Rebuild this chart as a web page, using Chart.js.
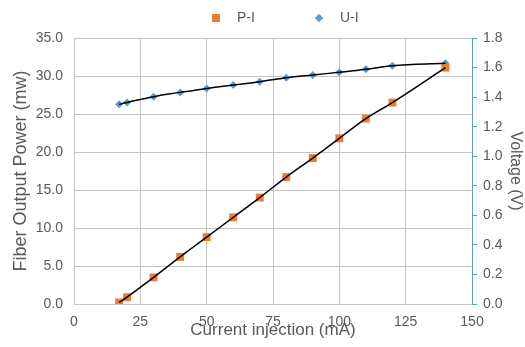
<!DOCTYPE html>
<html>
<head>
<meta charset="utf-8">
<script src="https://cdn.jsdelivr.net/npm/chart.js@4/dist/chart.umd.min.js"></script>
<style>
  html, body { margin: 0; padding: 0; background: #fff; }
  #wrap { position: relative; width: 525px; height: 347px; }
  #c { position: absolute; left: 0; top: 0; }
  .lg { position: absolute; top: 9px; font: 14px "Liberation Sans", Arial, sans-serif; color: #595959; line-height: 17px; }
  .sq { position: absolute; width: 8px; height: 8px; background: #ED7D31; }
  .dm { position: absolute; width: 6px; height: 6px; background: #5B9BD5; transform: rotate(45deg); }
</style>
</head>
<body>
<div id="wrap">
  <canvas id="c" width="525" height="347"></canvas>
  <div class="sq" style="left:212px; top:14px;"></div>
  <div class="lg" style="left:237px;">P-I</div>
  <div class="dm" style="left:316px; top:15px;"></div>
  <div class="lg" style="left:340px;">U-I</div>
</div>
<script>
// Current injection (mA)
const current = [17, 20, 30, 40, 50, 60, 70, 80, 90, 100, 110, 120, 140];
// Fiber output power (mW) — P-I
const power = [0.2, 0.9, 3.5, 6.2, 8.8, 11.4, 14.0, 16.7, 19.2, 21.8, 24.4, 26.5, 31.1];
// Voltage (V) — U-I
const voltage = [1.351, 1.364, 1.403, 1.432, 1.459, 1.482, 1.504, 1.531, 1.550, 1.568, 1.588, 1.613, 1.629];
// Tick settings
const xTicks = [0, 25, 50, 75, 100, 125, 150];
const powerTicks = [0, 5, 10, 15, 20, 25, 30, 35];
const voltageTicks = [0, 0.2, 0.4, 0.6, 0.8, 1.0, 1.2, 1.4, 1.6, 1.8];

const ptsP = current.map((x, i) => ({x, y: power[i]}));
const ptsU = current.map((x, i) => ({x, y: voltage[i]}));

const FONT = '"Liberation Sans", Arial, sans-serif';
const GRID = '#c4c4c4';
const TXT = '#595959';
const BLUE = '#5B9BD5';

new Chart(document.getElementById('c'), {
  type: 'scatter',
  data: {
    datasets: [
      { label: 'P-I trend', data: ptsP, showLine: true, borderColor: '#000', borderWidth: 1.5,
        pointRadius: 0, tension: 0.4, yAxisID: 'y', order: 0 },
      { label: 'U-I trend', data: ptsU, showLine: true, borderColor: '#000', borderWidth: 1.5,
        pointRadius: 0, tension: 0.4, yAxisID: 'y1', order: 0 },
      { label: 'P-I', data: ptsP, pointStyle: 'rect', pointRadius: 5.6, pointBackgroundColor: '#ED7D31',
        pointBorderColor: '#ED7D31', pointBorderWidth: 0, yAxisID: 'y', order: 1 },
      { label: 'U-I', data: ptsU, pointStyle: 'rectRot', pointRadius: 4, pointBackgroundColor: BLUE,
        pointBorderColor: BLUE, pointBorderWidth: 0, yAxisID: 'y1', order: 1 }
    ]
  },
  options: {
    responsive: false,
    animation: false,
    layout: { padding: { top: 38, left: 0, right: 0, bottom: 0 } },
    plugins: { legend: { display: false }, tooltip: { enabled: false } },
    scales: {
      x: {
        type: 'linear', min: 0, max: 150,
        afterBuildTicks: s => { s.ticks = xTicks.map(v => ({value: v})); },
        afterFit: s => { s.height = 43; },
        grid: { color: c => (c.tick && c.tick.value === 150) ? 'rgba(0,0,0,0)' : GRID, drawTicks: false, lineWidth: 1 },
        border: { color: GRID, width: 1 },
        ticks: { padding: 10, color: TXT, font: { family: FONT, size: 14 }, maxRotation: 0 },
        title: { display: true, text: 'Current injection (mA)', color: TXT,
                 font: { family: FONT, size: 17 }, padding: { top: 0, bottom: 6 } }
      },
      y: {
        position: 'left', min: 0, max: 35,
        afterBuildTicks: s => { s.ticks = powerTicks.map(v => ({value: v})); },
        afterFit: s => { s.width = 74; },
        grid: { color: GRID, drawTicks: false, lineWidth: 1 },
        border: { color: GRID, width: 1 },
        ticks: { padding: 11, color: TXT, font: { family: FONT, size: 14 }, callback: v => Number(v).toFixed(1) },
        title: { display: true, text: 'Fiber Output Power (mw)', color: TXT,
                 font: { family: FONT, size: 18 }, padding: { top: 10, bottom: 0 } }
      },
      y1: {
        position: 'right', min: 0, max: 1.8,
        afterBuildTicks: s => { s.ticks = voltageTicks.map(v => ({value: v})); },
        afterFit: s => { s.width = 53; },
        grid: { drawOnChartArea: false, drawTicks: true, tickLength: 5, color: BLUE },
        border: { color: BLUE, width: 1 },
        ticks: { padding: 6, color: TXT, font: { family: FONT, size: 14 }, callback: v => Number(v).toFixed(1) },
        title: { display: true, text: 'Voltage (V)', color: TXT,
                 font: { family: FONT, size: 16 }, padding: { top: 0, bottom: 0 } }
      }
    }
  }
});
</script>
</body>
</html>
